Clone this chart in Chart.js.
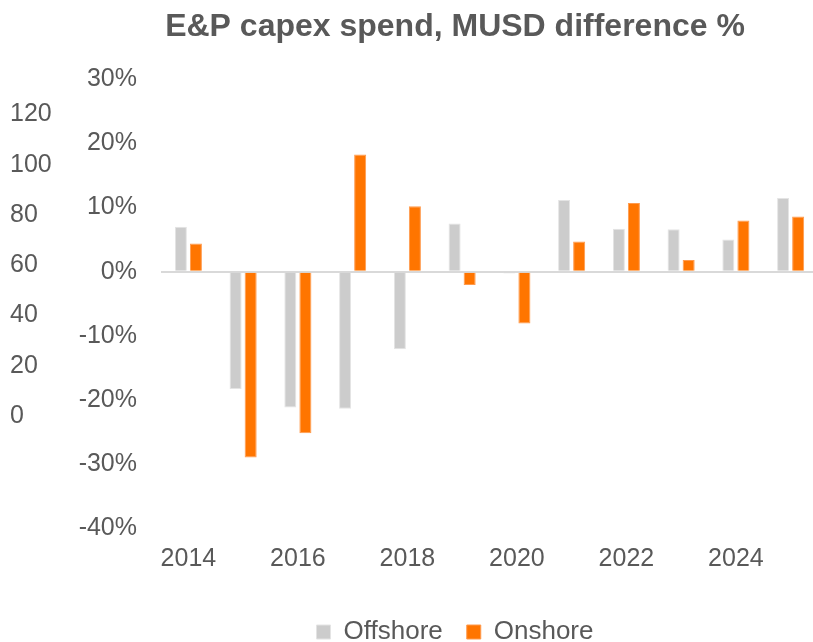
<!DOCTYPE html>
<html>
<head>
<meta charset="utf-8">
<script src="https://cdn.jsdelivr.net/npm/chart.js@4"></script>
<style>
  html, body { margin: 0; padding: 0; background: #fff; overflow: hidden; }
  #wrap { width: 813px; height: 642px; overflow: hidden; }
  #box { width: 900px; height: 642px; }
</style>
</head>
<body>
<div id="wrap"><div id="box"><canvas id="myChart"></canvas></div></div>
<script>
const years = ['2014', '2015', '2016', '2017', '2018', '2019', '2020', '2021', '2022', '2023', '2024', '2025'];
const offshore = [7.0, -18.3, -21.2, -21.4, -12.1, 7.5, -0.3, 11.2, 6.7, 6.6, 5.0, 11.5];
const onshore = [4.4, -29.0, -25.2, 18.3, 10.2, -2.1, -8.1, 4.7, 10.7, 1.8, 8.0, 8.6];
const pctTicks = [30, 20, 10, 0, -10, -20, -30, -40];
const oldTicks = [0, 20, 40, 60, 80, 100, 120];

const textColor = '#595959';
const font = { family: '"Liberation Sans", Arial, sans-serif', size: 25 };

const ctx = document.getElementById('myChart').getContext('2d');
const myChart = new Chart(ctx, {
  type: 'bar',
  data: {
    labels: years,
    datasets: [{
      label: 'Offshore',
      data: offshore,
      backgroundColor: '#cccccc',
      borderColor: '#e4e4e4',
      borderWidth: 1,
      yAxisID: 'y'
    }, {
      label: 'Onshore',
      data: onshore,
      backgroundColor: '#ff7500',
      borderColor: '#ff9a4d',
      borderWidth: 1,
      yAxisID: 'y'
    }]
  },
  options: {
    responsive: true,
    maintainAspectRatio: false,
    animation: false,
    layout: { padding: { left: 10, right: 0, top: 0, bottom: -13 } },
    datasets: { bar: { categoryPercentage: 0.55, barPercentage: 0.8 } },
    plugins: {
      title: {
        display: true,
        text: 'E&P capex spend, MUSD difference %',
        color: textColor,
        font: { family: font.family, size: 32, weight: 'bold' },
        padding: { top: 8, bottom: 33 }
      },
      legend: {
        position: 'bottom',
        labels: {
          color: textColor,
          font: { family: font.family, size: 26 },
          boxWidth: 14,
          boxHeight: 14,
          padding: 24
        }
      },
      tooltip: { enabled: false }
    },
    scales: {
      x: {
        grid: { display: false },
        border: { display: false },
        afterFit: s => { s.height = 67; },
        ticks: {
          color: textColor,
          font: font,
          padding: 8,
          autoSkip: false,
          maxRotation: 0,
          callback: (v, i) => (i % 2 === 0 ? years[i] : '')
        }
      },
      y: {
        position: 'left',
        weight: 0,
        min: -40,
        max: 30,
        afterBuildTicks: s => { s.ticks = pctTicks.map(v => ({ value: v })); },
        afterFit: s => { s.width = 101; },
        border: { display: false },
        grid: {
          drawTicks: false,
          lineWidth: 2,
          color: c => (c.tick && c.tick.value === 0 ? '#d9d9d9' : 'rgba(0,0,0,0)')
        },
        ticks: {
          color: textColor,
          font: font,
          padding: 24,
          callback: v => v + '%'
        }
      },
      y2: {
        position: 'left',
        weight: 1,
        min: -44.5,
        max: 133.9,
        afterBuildTicks: s => { s.ticks = oldTicks.map(v => ({ value: v })); },
        afterFit: s => { s.width = 50; },
        border: { display: false },
        grid: { display: false },
        ticks: {
          color: textColor,
          font: font,
          crossAlign: 'far'
        }
      },
      spacer: {
        position: 'right',
        min: 0,
        max: 1,
        afterFit: s => { s.width = 82; },
        border: { display: false },
        grid: { display: false },
        ticks: { display: false }
      }
    }
  }
});
</script>
</body>
</html>
